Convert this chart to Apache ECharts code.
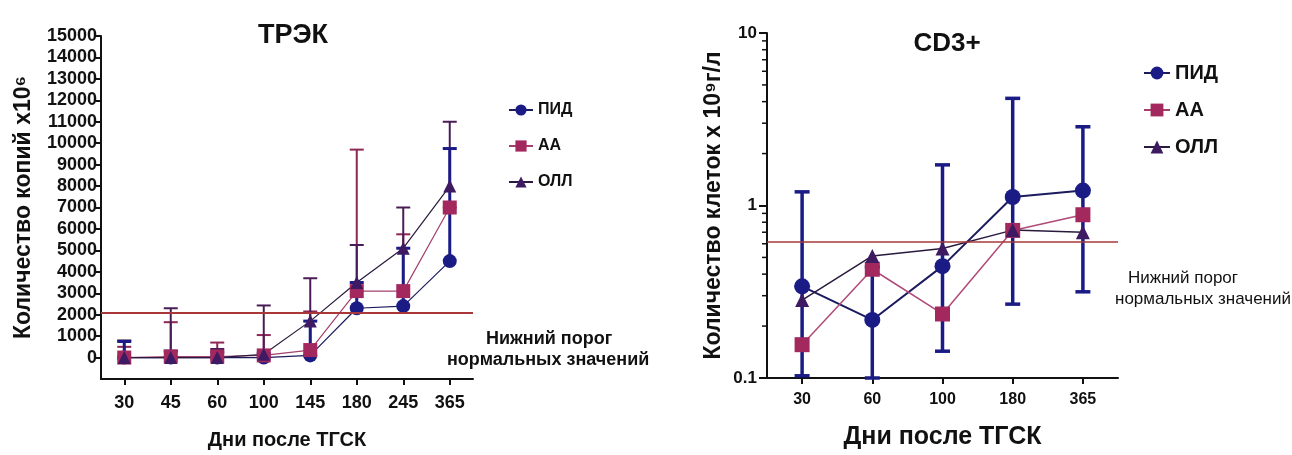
<!DOCTYPE html>
<html>
<head>
<meta charset="utf-8">
<script src="https://cdn.jsdelivr.net/npm/echarts@6/dist/echarts.min.js"></script>
<style>
html,body{margin:0;padding:0;background:#fff;}
#c{width:1292px;height:455px;}
</style>
</head>
<body>
<div id="c"></div>
<script>
// ---- Left chart: ТРЭК ----
const cats1 = ['30','45','60','100','145','180','245','365'];
const yTicks1 = [0,1000,2000,3000,4000,5000,6000,7000,8000,9000,10000,11000,12000,13000,14000,15000];
const pid1 = [0, 0, 0, 0, 100, 2300, 2400, 4500];
const aa1 = [0, 50, 50, 100, 350, 3100, 3100, 7000];
const oll1 = [0, 0, 0, 150, 1700, 3500, 5100, 8000];
const pid1Hi = [750, 300, 250, 200, 1700, 3500, 5100, 9750];
const aa1Hi = [500, 1650, 700, 1050, 2150, 9700, 5750, 7000];
const oll1Hi = [800, 2300, 400, 2430, 3700, 5250, 7000, 11000];
const norm1 = 2100;

// ---- Right chart: CD3+ ----
const cats2 = ['30','60','100','180','365'];
const pid2 = [0.34, 0.217, 0.445, 1.12, 1.22];
const aa2 = [0.156, 0.427, 0.235, 0.717, 0.884];
const oll2 = [0.283, 0.51, 0.563, 0.72, 0.70];
const pid2Lo = [0.103, 0.1, 0.143, 0.268, 0.316];
const pid2Hi = [1.2, 0.44, 1.72, 4.18, 2.86];
const norm2 = 0.62;
const minorTicks2 = [0.2,0.3,0.4,0.5,0.6,0.7,0.8,0.9,2,3,4,5,6,7,8,9];

const names = ['ПИД','АА','ОЛЛ'];
const C_PID = '#1b1b86';
const C_AA = '#a3285e';
const C_OLL = '#3e1a63';
const FONT = 'Arial, "Liberation Sans", sans-serif';

function errSeries(xi, yi, means, lows, highs, color, width, capW, both) {
  const data = means.map((m, i) => [i, lows ? lows[i] : m, highs[i]]);
  return {
    type: 'custom', xAxisIndex: xi, yAxisIndex: yi, z: 1, silent: true,
    data: data,
    renderItem: function (params, api) {
      const lo = api.coord([api.value(0), api.value(1)]);
      const hi = api.coord([api.value(0), api.value(2)]);
      const st = {stroke: color, lineWidth: width};
      const ch = [
        {type: 'line', shape: {x1: lo[0], y1: lo[1], x2: hi[0], y2: hi[1]}, style: st},
        {type: 'line', shape: {x1: hi[0]-capW/2, y1: hi[1], x2: hi[0]+capW/2, y2: hi[1]}, style: st}
      ];
      if (both) ch.push({type: 'line', shape: {x1: lo[0]-capW/2, y1: lo[1], x2: lo[0]+capW/2, y2: lo[1]}, style: st});
      return {type: 'group', children: ch};
    }
  };
}

function lineSeries(name, xi, yi, data, color, lineColor, lw, symbol, size) {
  return {
    name: name, type: 'line', xAxisIndex: xi, yAxisIndex: yi, z: 3,
    data: data, symbol: symbol, symbolSize: size, showSymbol: true,
    lineStyle: {color: lineColor, width: lw},
    itemStyle: {color: color, borderWidth: 0},
    animation: false
  };
}

const axisLine = {show: true, onZero: false, lineStyle: {color: '#111', width: 2}};
const axisTick = {show: true, length: 6, lineStyle: {color: '#111', width: 2}};

const option = {
  animation: false,
  backgroundColor: '#fff',
  textStyle: {fontFamily: FONT},
  title: [
    {text: 'ТРЭК', left: 288, top: 17, textAlign: 'center',
     textStyle: {fontSize: 27, fontWeight: 'bold', color: '#111', fontFamily: FONT}},
    {text: 'CD3+', left: 942, top: 26, textAlign: 'center',
     textStyle: {fontSize: 26, fontWeight: 'bold', color: '#111', fontFamily: FONT}}
  ],
  legend: [
    {data: names, orient: 'vertical', left: 503, top: 97, itemGap: 20, itemWidth: 24, itemHeight: 14,
     textStyle: {fontSize: 16, fontWeight: 'bold', color: '#111', fontFamily: FONT}, selectedMode: false},
    {data: names, orient: 'vertical', left: 1138, top: 58, itemGap: 17, itemWidth: 26, itemHeight: 16,
     textStyle: {fontSize: 20, fontWeight: 'bold', color: '#111', fontFamily: FONT}, selectedMode: false}
  ],
  grid: [
    {left: 101, top: 36, width: 372, height: 347},
    {left: 767, top: 33, width: 351, height: 347}
  ],
  xAxis: [
    {type: 'category', gridIndex: 0, data: cats1, boundaryGap: true,
     axisLine: axisLine, axisTick: Object.assign({alignWithLabel: true}, axisTick),
     axisLabel: {fontSize: 18, fontWeight: 'bold', color: '#111', margin: 15, fontFamily: FONT},
     name: 'Дни после ТГСК', nameLocation: 'middle', nameGap: 51,
     nameTextStyle: {fontSize: 20, fontWeight: 'bold', color: '#111', fontFamily: FONT}},
    {type: 'category', gridIndex: 1, data: cats2, boundaryGap: true,
     axisLine: axisLine, axisTick: Object.assign({alignWithLabel: true}, axisTick),
     axisLabel: {fontSize: 16, fontWeight: 'bold', color: '#111', margin: 14, fontFamily: FONT},
     name: 'Дни после ТГСК', nameLocation: 'middle', nameGap: 47,
     nameTextStyle: {fontSize: 25, fontWeight: 'bold', color: '#111', fontFamily: FONT}}
  ],
  yAxis: [
    {type: 'value', gridIndex: 0, min: -1000, max: 15000, interval: 1000,
     splitLine: {show: false}, axisLine: axisLine,
     axisTick: Object.assign({customValues: yTicks1}, axisTick),
     axisLabel: {fontSize: 18, fontWeight: 'bold', color: '#111', margin: 4, fontFamily: FONT,
       customValues: yTicks1,
       formatter: v => v < 0 ? '' : String(v)},
     name: 'Количество копий х10⁶', nameLocation: 'middle', nameRotate: 90, nameGap: 66,
     nameTextStyle: {fontSize: 23, fontWeight: 'bold', color: '#111', fontFamily: FONT}},
    {type: 'log', gridIndex: 1, logBase: 10, min: 0.1, max: 10,
     splitLine: {show: false}, axisLine: axisLine,
     axisTick: {show: true, length: 8, lineStyle: {color: '#111', width: 2}},
     axisLabel: {fontSize: 17, fontWeight: 'bold', color: '#111', margin: 10, fontFamily: FONT,
       formatter: v => String(v)},
     name: 'Количество клеток х 10⁹г/л', nameLocation: 'middle', nameRotate: 90, nameGap: 42,
     nameTextStyle: {fontSize: 23, fontWeight: 'bold', color: '#111', fontFamily: FONT}}
  ],
  graphic: [
    {type: 'text', left: 486, top: 330, style: {text: 'Нижний порог', font: 'bold 18px ' + FONT, fill: '#111'}},
    {type: 'text', left: 447, top: 351, style: {text: 'нормальных значений', font: 'bold 18px ' + FONT, fill: '#111'}},
    {type: 'text', left: 1128, top: 270, style: {text: 'Нижний порог', font: '17px ' + FONT, fill: '#111'}},
    {type: 'text', left: 1115, top: 291, style: {text: 'нормальных значений', font: '17px ' + FONT, fill: '#111'}}
  ],
  series: [
    errSeries(0, 0, aa1, null, aa1Hi, '#8e2656', 2, 14, false),
    errSeries(0, 0, oll1, null, oll1Hi, '#4a1c55', 2, 14, false),
    errSeries(0, 0, pid1, null, pid1Hi, C_PID, 3, 14, false),
    errSeries(1, 1, pid2, pid2Lo, pid2Hi, C_PID, 3.5, 15, true),
    {
      type: 'custom', xAxisIndex: 1, yAxisIndex: 1, silent: true, z: 1,
      data: minorTicks2.map(v => [0, v]),
      renderItem: function (params, api) {
        const p = api.coord([0, api.value(1)]);
        const x0 = params.coordSys.x;
        return {type: 'line', shape: {x1: x0 - 5, y1: p[1], x2: x0, y2: p[1]},
                style: {stroke: '#111', lineWidth: 1.5}};
      }
    },
    Object.assign(lineSeries('ПИД', 0, 0, pid1, C_PID, '#1b1b5e', 1.2, 'circle', 14), {
      markLine: {silent: true, symbol: 'none', label: {show: false},
        lineStyle: {color: '#a8383a', width: 2, type: 'solid'}, data: [{yAxis: norm1}]}
    }),
    lineSeries('АА', 0, 0, aa1, C_AA, '#a3406e', 1.2, 'rect', 14),
    lineSeries('ОЛЛ', 0, 0, oll1, C_OLL, '#2a1a3e', 1.2, 'triangle', 13),
    Object.assign(lineSeries('ПИД', 1, 1, pid2, C_PID, '#1b1b5e', 2, 'circle', 16), {
      markLine: {silent: true, symbol: 'none', label: {show: false},
        lineStyle: {color: '#a8383a', width: 1.5, type: 'solid'}, data: [{yAxis: norm2}]}
    }),
    lineSeries('АА', 1, 1, aa2, C_AA, '#b04a78', 1.5, 'rect', 15),
    lineSeries('ОЛЛ', 1, 1, oll2, C_OLL, '#2a1a3e', 1.5, 'triangle', 14)
  ]
};

const chart = echarts.init(document.getElementById('c'), null, {renderer: 'canvas'});
chart.setOption(option);
</script>
</body>
</html>
